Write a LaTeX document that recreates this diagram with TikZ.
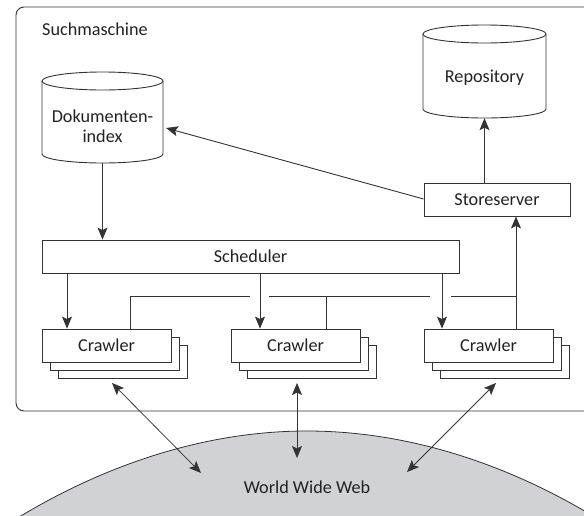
\documentclass[tikz,border=0pt]{standalone}
\usepackage{fontspec}
\setmainfont{Carlito}
\usetikzlibrary{arrows.meta}
\definecolor{ln}{HTML}{333333}
\definecolor{tx}{HTML}{222222}
\definecolor{globe}{HTML}{D1D2D4}
\begin{document}
\begin{tikzpicture}[x=1pt,y=1pt,
  font=\fontsize{18.2}{20}\selectfont,
  lw/.style={line width=0.9pt, draw=ln},
  box/.style={lw, fill=white, inner sep=0pt, minimum height=33pt, text=tx},
  crawl/.style={box, minimum width=129pt},
  arr/.style={lw, -{Stealth[length=12pt,width=10pt,inset=2.5pt]}},
  biarr/.style={draw=ln, line width=0.75pt, {Stealth[length=12pt,width=10pt,inset=2.5pt]}-{Stealth[length=12pt,width=10pt,inset=2.5pt]}},
  lbl/.style={text=tx, inner sep=0pt}
]
\useasboundingbox (0,0) rectangle (584,-515);
\begin{scope}
\clip (0,0) rectangle (584,-515);
% globe
\fill[globe] (-10,-535.5) parabola bend (307,-431) (600,-520.3) -- (600,-600) -- (-10,-600) -- cycle;
\draw[draw=ln, line width=0.8pt] (-10,-535.5) parabola bend (307,-431) (600,-520.3);
\node[lbl] (www) at (307,-487) {World Wide Web};
% outer box
\draw[lw, rounded corners=8pt] (16,-7) rectangle (620,-411);
\node[lbl, anchor=base west] (title) at (42,-35) {Suchmaschine};
% Dokumentenindex cylinder
\draw[lw, fill=white] (42,-81) -- (42,-154) arc[start angle=180, end angle=360, x radius=60.5, y radius=9] -- (163,-81);
\draw[lw] (102.5,-81) ellipse[x radius=60.5, y radius=9];
\node[inner sep=0pt, minimum width=121pt, minimum height=91pt] (dok) at (102.5,-117.5) {};
\node[lbl, align=center] (doktext) at (102.5,-126) {Dokumenten-\\index};
% Repository cylinder
\draw[lw, fill=white] (423,-34) -- (423,-109) arc[start angle=180, end angle=360, x radius=61.5, y radius=9] -- (546,-34);
\draw[lw] (484.5,-34) ellipse[x radius=61.5, y radius=9];
\node[inner sep=0pt, minimum width=123pt, minimum height=93pt] (repo) at (484.5,-71.5) {};
\node[lbl, anchor=base] (repotext) at (484.5,-82) {Repository};
% Storeserver, Scheduler
\node[box, minimum width=146pt] (store) at (497,-199.5) {Storeserver};
\node[box, minimum width=417pt] (sched) at (250.5,-256.5) {Scheduler};
% crawler stacks
\foreach \cx in {106.5,295.5,488.5}{
  \draw[lw, fill=white] (\cx-64.5+16.6,-329-16.6) rectangle (\cx+64.5+16.6,-362-16.6);
  \draw[lw, fill=white] (\cx-64.5+8.3,-329-8.3) rectangle (\cx+64.5+8.3,-362-8.3);
}
\node[crawl] (c1) at (106.5,-345.5) {Crawler};
\node[crawl] (c2) at (295.5,-345.5) {Crawler};
\node[crawl] (c3) at (488.5,-345.5) {Crawler};
% arrows
\coordinate (dokin) at (166,-128);
\draw[arr] (dok.south) -- (dok.south |- sched.north);
\draw[arr] (store.west |- 0,-199) -- (dokin);
\draw[arr] (store.north -| repo.south) -- (repo.south);
\draw[arr] ([xshift=-39.5pt]c1.north |- sched.south) -- ([xshift=-39.5pt]c1.north);
\draw[arr] ([xshift=-35.5pt]c2.north |- sched.south) -- ([xshift=-35.5pt]c2.north);
\draw[arr] ([xshift=-46.5pt]c3.north |- sched.south) -- ([xshift=-46.5pt]c3.north);
\draw[arr] ([xshift=27.5pt]c3.north) -- ([xshift=27.5pt]c3.north |- store.south);
% bus line with gaps
\coordinate (bus) at (0,-296);
\draw[lw] ([xshift=23.5pt]c1.north) -- ([xshift=23.5pt]c1.north |- bus) -- (250,-296);
\draw[lw] (269,-296) -- (430,-296);
\draw[lw] (451,-296) -- ([xshift=27.5pt]c3.north |- bus);
\draw[lw] ([xshift=30.5pt]c2.north) -- ([xshift=30.5pt]c2.north |- bus);
% web arrows
\coordinate (a1) at (112,-383); \coordinate (b1) at (201,-473);
\coordinate (a2) at (297,-383); \coordinate (b2) at (297,-458);
\coordinate (a3) at (496,-383); \coordinate (b3) at (407,-472);
\draw[biarr] (a1) -- (b1);
\draw[biarr] (a2) -- (b2);
\draw[biarr] (a3) -- (b3);
\end{scope}
\end{tikzpicture}
\end{document}
